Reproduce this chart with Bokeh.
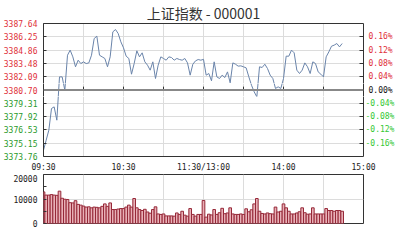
from bokeh.plotting import figure
from bokeh.layouts import column
from bokeh.models import Range1d, FixedTicker, LinearAxis, Span, PrintfTickFormatter
from bokeh.embed import file_html
from bokeh.resources import INLINE

# ---------------- data ----------------
title_text = "上证指数 - 000001"
prev_close = 3380.70
minutes = list(range(0, 225, 2))  # minutes since 09:30 (trading time), 2-minute samples

price = [
    3374.42, 3375.46, 3376.51, 3378.77, 3378.94, 3377.55, 3382.07, 3382.07, 3380.68, 3384.33,
    3384.86, 3384.16, 3383.12, 3383.81, 3383.46, 3383.64, 3383.46, 3383.53, 3384.33, 3386.07,
    3386.32, 3384.33, 3384.16, 3383.99, 3383.12, 3384.16, 3386.77, 3387.01, 3386.60, 3385.73,
    3385.10,
    3384.23, 3383.99, 3382.35, 3383.46, 3384.79, 3384.16, 3384.58, 3383.64, 3383.29, 3382.77,
    3383.64, 3381.90, 3383.29, 3384.16, 3383.99, 3383.81, 3384.16, 3384.09, 3383.81, 3383.99,
    3383.88, 3383.81, 3383.99, 3383.53, 3382.25, 3383.39, 3383.74, 3383.88, 3383.81, 3383.90,
    3382.25, 3382.42, 3381.66, 3383.64, 3382.07, 3381.90, 3382.25, 3382.00, 3382.59, 3381.45,
    3383.53, 3383.39, 3383.19, 3383.22, 3383.12, 3383.01, 3382.07, 3381.20, 3380.51, 3379.99,
    3383.12, 3383.05, 3383.39, 3382.94, 3382.25, 3381.90, 3380.86, 3381.03, 3380.86, 3381.90,
    3384.23, 3384.23, 3384.86, 3384.58, 3382.77, 3382.42, 3382.77, 3383.53, 3383.12, 3382.42,
    3383.64, 3383.46, 3382.59, 3382.35, 3382.07, 3384.16, 3384.68, 3385.27, 3385.38, 3385.55,
    3385.20, 3385.55,
]

volume = [
    12900, 11600, 11600, 11800, 11600, 11500, 13200, 10300, 9900, 9800,
    8500, 8400, 9300, 7800, 7500, 7100, 6700, 6800, 6400, 6700,
    6600, 6400, 7000, 8000, 7000, 8400, 5700, 5700, 5900, 6100,
    6100,
    6700, 7500, 6700, 10200, 6400, 5700, 5300, 5800, 4700, 4200,
    5700, 6800, 3900, 3700, 3900, 3100, 3100, 3100, 3000, 4300,
    3700, 5000, 3400, 3000, 6100, 3700, 3000, 3700, 3700, 9400,
    2600, 3800, 3500, 5700, 3700, 4400, 6200, 4000, 4300, 6400,
    3900, 3700, 3700, 3900, 3700, 6000, 4800, 5600, 8000, 10200,
    5000, 4100, 3900, 4300, 4000, 3900, 6700, 4700, 5000, 8000,
    6400, 5000, 3900, 3900, 4300, 4800, 6400, 4400, 3800, 3900,
    6400, 3900, 3900, 3900, 3900, 6100, 5300, 5300, 5000, 5300,
    5300, 5000,
]

price_ticks_up = [3382.09, 3383.48, 3384.86, 3386.25, 3387.64]
price_ticks_down = [3373.76, 3375.15, 3376.53, 3377.92, 3379.31]
pct_ticks_up = [3382.09, 3383.48, 3384.86, 3386.25]
pct_labels_up = ["0.04%", "0.08%", "0.12%", "0.16%"]
pct_ticks_down = [3375.15, 3376.53, 3377.92, 3379.31]
pct_labels_down = ["-0.16%", "-0.12%", "-0.08%", "-0.04%"]
pct_label_mid = "0.00%"
time_ticks = [0, 60, 120, 180, 240]
time_labels = ["09:30", "10:30", "11:30/13:00", "14:00", "15:00"]
grid_minutes = [30, 60, 90, 120, 150, 180, 210]
vol_ticks = [0, 5000, 10000, 15000, 20000]
vol_labels = ["0", "", "10000", "", "20000"]

# ---------------- styles / geometry ----------------
MONO = "DejaVu Sans Mono"
RED = "#e0303a"
GREEN_L = "#2a9a2a"
GREEN_R = "#33c833"
GRID = "#dcdcdc"
FRAME = "#333333"
LINE = "#6a84aa"
TXT = "#222222"

y_top = price_ticks_up[-1]
y_bot = price_ticks_down[0]
FRAME_W = 320
PRICE_H = 133
UP_H, MID_H = 60, 13        # price panel split in 3 strips: red / centre / green labels
LOW_H = PRICE_H - UP_H - MID_H
ppu = PRICE_H / (y_top - y_bot)
split1 = y_top - UP_H / ppu
split2 = y_top - (UP_H + MID_H) / ppu
xr = Range1d(0, 240)


def style_axis(ax, color, tick_in, standoff=6):
    ax.major_tick_in = tick_in
    ax.major_tick_out = 0
    ax.minor_tick_line_color = None
    ax.major_tick_line_color = FRAME
    ax.axis_line_color = FRAME
    ax.major_label_standoff = standoff
    ax.major_label_text_font = MONO
    ax.major_label_text_font_size = "8px"
    ax.major_label_text_color = color


def strip(h, lo_val, hi_val, top_border, bottom_border, show_x=False):
    fig = figure(frame_width=FRAME_W, frame_height=h, x_range=xr, y_range=Range1d(lo_val, hi_val),
                 output_backend="svg", toolbar_location=None,
                 x_axis_location="below" if show_x else None,
                 min_border_left=40, min_border_right=40,
                 min_border_top=top_border, min_border_bottom=bottom_border)
    fig.background_fill_color = "white"
    fig.border_fill_color = "white"
    fig.outline_line_color = None
    fig.xgrid.ticker = FixedTicker(ticks=grid_minutes)
    fig.xgrid.grid_line_color = GRID
    fig.ygrid.grid_line_color = GRID
    return fig


# ---------------- upper strip (red labels) ----------------
u = strip(UP_H, split1, y_top, 23, 0)
u.title.text = title_text
u.title.align = "center"
u.title.text_font = "Noto Sans CJK SC"
u.title.text_font_size = "14px"
u.title.text_font_style = "normal"
u.title.text_color = "#333333"
u.title.standoff = 1
u.ygrid.ticker = FixedTicker(ticks=price_ticks_up[:-1])
u.yaxis.ticker = FixedTicker(ticks=price_ticks_up)
u.yaxis.formatter = PrintfTickFormatter(format="%.2f")
style_axis(u.yaxis[0], RED, 3)
ur = LinearAxis(ticker=FixedTicker(ticks=pct_ticks_up),
                major_label_overrides=dict(zip(pct_ticks_up, pct_labels_up)))
style_axis(ur, RED, 4, 5)
u.add_layout(ur, "right")
top_edge = LinearAxis(ticker=FixedTicker(ticks=[]), major_tick_out=0, major_tick_in=0,
                      minor_tick_out=0, minor_tick_in=0, major_label_standoff=0,
                      axis_line_color=FRAME)
u.add_layout(top_edge, "above")
u.line(minutes, price, line_color=LINE, line_width=1)

# ---------------- centre strip (previous close) ----------------
m = strip(MID_H, split2, split1, 0, 0)
m.ygrid.grid_line_color = None
m.yaxis.ticker = FixedTicker(ticks=[prev_close])
m.yaxis.formatter = PrintfTickFormatter(format="%.2f")
style_axis(m.yaxis[0], RED, 0)
mr = LinearAxis(ticker=FixedTicker(ticks=[prev_close]),
                major_label_overrides={prev_close: pct_label_mid})
style_axis(mr, "#111111", 0, 5)
m.add_layout(mr, "right")
m.add_layout(Span(location=prev_close, dimension="width", line_color="#888888", line_width=2))
m.segment(x0=grid_minutes, y0=[prev_close] * len(grid_minutes),
          x1=grid_minutes, y1=[prev_close + 0.35] * len(grid_minutes),
          line_color=FRAME, line_width=1)
m.line(minutes, price, line_color=LINE, line_width=1)

# ---------------- lower strip (green labels + time axis) ----------------
lo = strip(LOW_H, y_bot, split2, 0, 16, show_x=True)
lo.ygrid.ticker = FixedTicker(ticks=price_ticks_down[1:])
lo.yaxis.ticker = FixedTicker(ticks=price_ticks_down)
lo.yaxis.formatter = PrintfTickFormatter(format="%.2f")
style_axis(lo.yaxis[0], GREEN_L, 3)
lr = LinearAxis(ticker=FixedTicker(ticks=pct_ticks_down),
                major_label_overrides=dict(zip(pct_ticks_down, pct_labels_down)))
style_axis(lr, GREEN_R, 4, 2)
lo.add_layout(lr, "right")
lo.xaxis.ticker = FixedTicker(ticks=time_ticks)
lo.xaxis.major_label_overrides = dict(zip(time_ticks, time_labels))
style_axis(lo.xaxis[0], TXT, 0, 6)
lo.line(minutes, price, line_color=LINE, line_width=1)

# ---------------- volume panel ----------------
v = strip(49, 0, 20000, 0, 15)
v.outline_line_color = FRAME
v.outline_line_width = 1
v.ygrid.ticker = FixedTicker(ticks=[10000])
v.yaxis.ticker = FixedTicker(ticks=vol_ticks)
v.yaxis.major_label_overrides = dict(zip(vol_ticks, vol_labels))
style_axis(v.yaxis[0], TXT, 3)
v.yaxis.axis_line_color = None
v.vbar(x=minutes, top=volume, width=2, bottom=0,
       fill_color="#e8b0b7", line_color="#962838", line_width=1)

layout = column(u, m, lo, v, spacing=0)
open("out.html", "w").write(file_html(layout, INLINE))
